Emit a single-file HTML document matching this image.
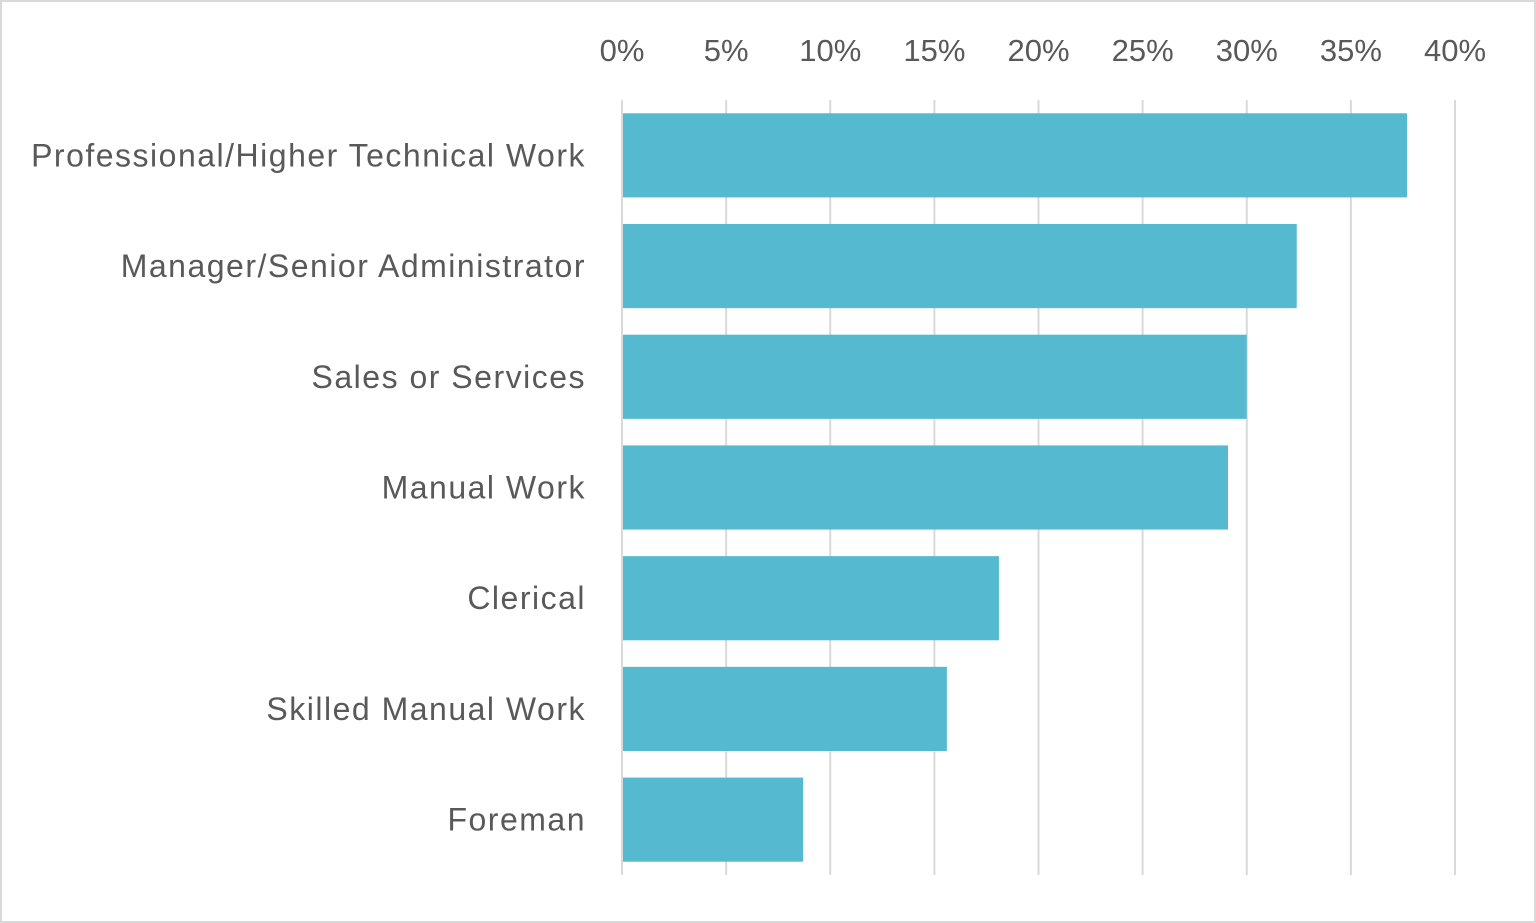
<!DOCTYPE html>
<html><head><meta charset="utf-8"><style>
html,body{margin:0;padding:0;background:#fff;}
svg{display:block;}
text{font-family:"Liberation Sans",sans-serif;fill:#595959;}
.cat{letter-spacing:1.5px;}
</style></head><body>
<svg id="chart" width="1536" height="923">
<rect x="1" y="1" width="1534" height="921" fill="#fff" stroke="#d9d9d9" stroke-width="2"/>
<g id="grid"></g><g id="bars"></g><g id="xt"></g><g id="yl"></g>
</svg>
<script>
const categories=["Professional/Higher Technical Work","Manager/Senior Administrator","Sales or Services","Manual Work","Clerical","Skilled Manual Work","Foreman"];
const values=[37.7,32.4,30.0,29.1,18.1,15.6,8.7];
const ticks=[0,5,10,15,20,25,30,35,40];
const tickLabels=["0%","5%","10%","15%","20%","25%","30%","35%","40%"];
const NS="http://www.w3.org/2000/svg";
const x0=622,x1=1455,yTop=100,yBot=875;
const xs=v=>x0+(v/40)*(x1-x0);
const band=(yBot-yTop)/categories.length;
const ys=i=>yTop+i*band;
function mk(t,a,p){const e=document.createElementNS(NS,t);for(const k in a)e.setAttribute(k,a[k]);p.appendChild(e);return e;}
const g=document.getElementById('grid'),b=document.getElementById('bars'),xt=document.getElementById('xt'),yl=document.getElementById('yl');
ticks.forEach((t,i)=>{
 const l=mk('line',{x1:xs(t),x2:xs(t),y1:yTop,y2:yBot,stroke:'#d9d9d9','stroke-width':2},g);
 
 
 const tx=mk('text',{x:xs(t),y:61,'text-anchor':'middle','font-size':31},xt);
 tx.textContent=tickLabels[i];
 
 
});
categories.forEach((c,i)=>{
 const h=band*0.76,y=ys(i)+(band-h)/2;
 const r=mk('rect',{x:x0+1,y:y,width:xs(values[i])-x0-1,height:h,fill:'#55B9D0'},b);
 
 
 const t=mk('text',{x:586,y:ys(i)+band/2+11,'text-anchor':'end','font-size':32,'class':'cat'},yl);
 t.textContent=c;
 
 
});
</script>
</body></html>
